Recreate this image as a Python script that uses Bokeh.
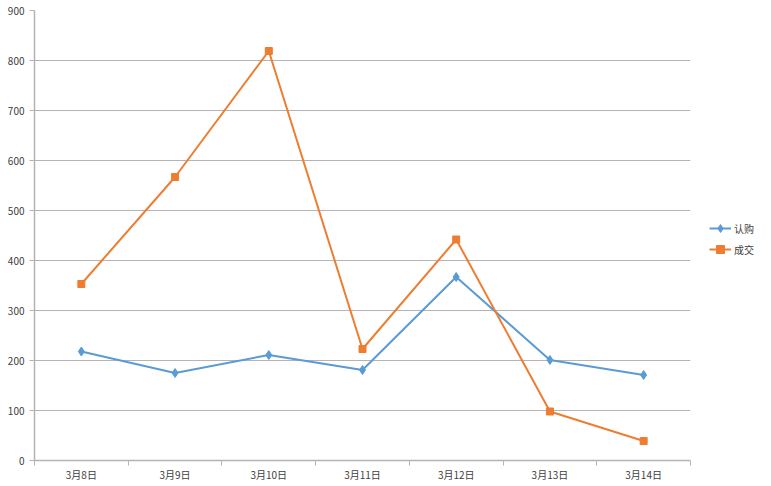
from bokeh.plotting import figure
from bokeh.models import FixedTicker, Legend, LegendItem, Range1d, InlineStyleSheet
from bokeh.embed import file_html
from bokeh.resources import INLINE

categories = ["3月8日", "3月9日", "3月10日", "3月11日", "3月12日", "3月13日", "3月14日"]
rengou = [218, 175, 211, 181, 367, 201, 171]
chengjiao = [353, 567, 819, 223, 442, 98, 39]
y_ticks = [0, 100, 200, 300, 400, 500, 600, 700, 800, 900]

xs = [i + 0.5 for i in range(len(categories))]
FONT = "Noto Sans CJK SC"

p = figure(frame_width=656, frame_height=450, output_backend="svg", toolbar_location=None,
           x_range=Range1d(0, len(categories)), y_range=Range1d(0, 900),
           min_border_left=34, min_border_top=10, min_border_bottom=20, min_border_right=77)
p.outline_line_color = None
p.background_fill_color = "white"
p.border_fill_color = "white"
p.stylesheets = [InlineStyleSheet(css=":host { box-shadow: inset -2px 0 0 #a8a8a8; }"
                                      ".bk-Canvas, :host > div { box-shadow: inset -2px 0 0 #a8a8a8; }")]

# grid
p.xgrid.grid_line_color = None
p.ygrid.grid_line_color = "#b4b4b4"
p.ygrid.grid_line_width = 1.2

# y axis
p.yaxis.ticker = FixedTicker(ticks=y_ticks)
p.yaxis.axis_line_color = "#b4b4b4"
p.yaxis.axis_line_width = 1.5
p.yaxis.major_tick_line_color = "#b4b4b4"
p.yaxis.major_tick_out = 5
p.yaxis.major_tick_in = 0
p.yaxis.minor_tick_line_color = None
p.yaxis.major_label_text_font = FONT
p.yaxis.major_label_text_font_size = "10px"
p.yaxis.major_label_text_color = "#404040"
p.yaxis.major_label_standoff = 5

# x axis
p.xaxis.ticker = FixedTicker(ticks=xs, minor_ticks=list(range(len(categories) + 1)))
p.xaxis.major_label_overrides = {x: c for x, c in zip(xs, categories)}
p.xaxis.axis_line_color = "#b4b4b4"
p.xaxis.axis_line_width = 1.5
p.xaxis.major_tick_line_color = None
p.xaxis.minor_tick_line_color = "#b4b4b4"
p.xaxis.minor_tick_out = 5
p.xaxis.minor_tick_in = 0
p.xaxis.major_label_text_font = FONT
p.xaxis.major_label_text_font_size = "10px"
p.xaxis.major_label_text_color = "#404040"
p.xaxis.major_label_standoff = 0

BLUE = "#5b9bd5"
ORANGE = "#ed7d31"

l1 = p.line(xs, rengou, line_color=BLUE, line_width=2)
m1 = p.scatter(xs, rengou, marker="diamond", size=9, fill_color=BLUE, line_color=BLUE)
l2 = p.line(xs, chengjiao, line_color=ORANGE, line_width=2)
m2 = p.scatter(xs, chengjiao, marker="square", size=7, fill_color=ORANGE, line_color=ORANGE)

legend = Legend(items=[LegendItem(label="认购", renderers=[l1, m1]),
                       LegendItem(label="成交", renderers=[l2, m2])],
                location=(19, 201), border_line_color=None, background_fill_alpha=0,
                label_text_font=FONT, label_text_font_size="10px", label_text_color="#404040",
                glyph_width=22, glyph_height=20, label_height=20, spacing=1,
                label_standoff=3, margin=0, padding=8)
p.add_layout(legend, "right")

open("out.html", "w").write(file_html(p, INLINE))
